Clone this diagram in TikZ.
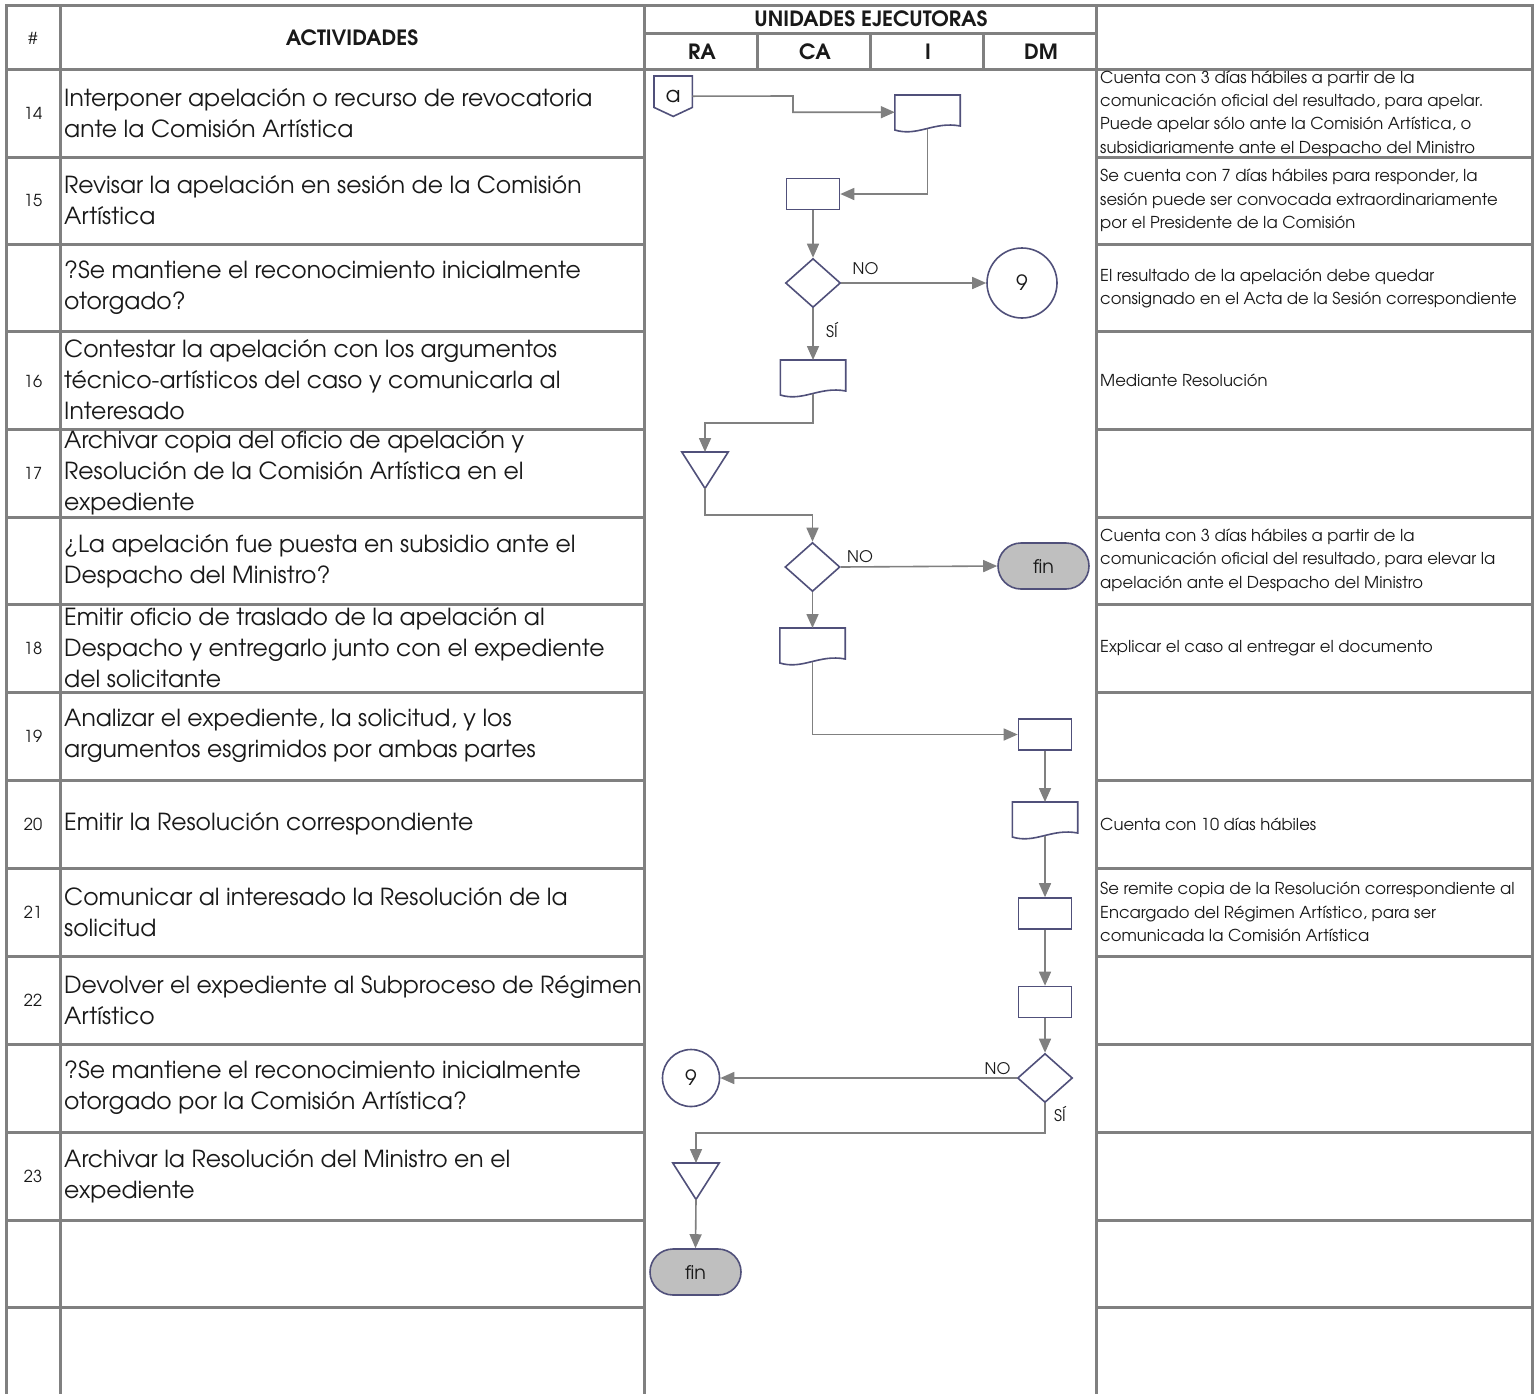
\documentclass[tikz,border=0pt]{standalone}
\usepackage{fontspec}
\setmainfont{TeX Gyre Adventor}
\usetikzlibrary{shapes.geometric,shapes.misc,arrows.meta,calc}
\definecolor{gridc}{RGB}{128,128,128}
\definecolor{shpc}{RGB}{80,80,122}
\definecolor{connc}{RGB}{128,128,128}
\definecolor{txtc}{RGB}{25,25,25}
\definecolor{termc}{RGB}{191,191,191}
\newcommand\docout[1]{\draw[outl] (#1.north west) -- (#1.north east) -- ($(#1.north east)+(0,31)$) .. controls ($(#1.north west)!0.6!(#1.north east)+(0,26)$) and ($(#1.north west)!0.35!(#1.north east)+(0,42)$) .. ($(#1.north west)+(0,35)$) -- cycle;}
\newcommand\triout[1]{\draw[outl] (#1.north west) -- (#1.north east) -- (#1.south) -- cycle;}
\newcommand\offout[1]{\draw[outl] (#1.north west) -- (#1.north east) -- ($(#1.south east)+(0,-9)$) -- (#1.south) -- ($(#1.south west)+(0,-9)$) -- cycle;}
\begin{document}
\begin{tikzpicture}[x=1pt,y=-1pt,
  gridline/.style={draw=gridc,line width=3pt,line cap=rect},
  outl/.style={draw=shpc,line width=1.6pt},
  fshape/.style={draw=shpc,line width=1.6pt,fill=white,inner sep=0pt,text=txtc},
  proc/.style={fshape,rectangle,minimum width=53pt,minimum height=31pt},
  dec/.style={fshape,diamond,minimum width=55pt,minimum height=49pt},
  docn/.style={rectangle,draw=none,minimum width=65pt,minimum height=34pt,inner sep=0pt},
  trin/.style={rectangle,draw=none,minimum width=46pt,minimum height=36pt,inner sep=0pt},
  offn/.style={rectangle,draw=none,minimum width=38pt,minimum height=40pt,inner sep=0pt,font=\fontsize{22}{24}\selectfont,text=txtc},
  conr/.style={fshape,circle,font=\fontsize{21}{23}\selectfont},
  term/.style={fshape,rounded rectangle,fill=termc,minimum width=91pt,minimum height=46pt,font=\fontsize{19}{21}\selectfont},
  conn/.style={draw=connc,line width=1.6pt,-{Triangle[length=14pt,width=12pt]}},
  lbl/.style={inner sep=0pt,font=\fontsize{16}{18}\selectfont,text=txtc},
  act/.style={anchor=west,align=left,inner sep=0pt,font=\fontsize{23.5}{31}\selectfont,text=txtc},
  obs/.style={anchor=west,align=left,inner sep=0pt,font=\fontsize{16.4}{23.3}\selectfont,text=txtc},
  num/.style={inner sep=0pt,font=\fontsize{16.5}{18}\selectfont,text=txtc},
  hdrb/.style={inner sep=0pt,font=\fontsize{21}{22}\bfseries,text=txtc}
]
\useasboundingbox (0,0) rectangle (1536,1393);
\fill[white] (0,0) rectangle (1536,1393);

% ---------- table grid ----------
\draw[gridline] (6,5) -- (1532,5);
\foreach \x in {6,60,644,1096,1532} \draw[gridline] (\x,5) -- (\x,1395);
\draw[gridline] (644,33) -- (1096,33);
\foreach \x in {757,870,983} \draw[gridline] (\x,33) -- (\x,69.5);
\draw[gridline] (6,69.5) -- (1532,69.5);
\foreach \y in {157,244,331,429,517,604,692,780,868,956,1044,1132,1220,1307}{
  \draw[gridline] (6,\y) -- (644,\y);
  \draw[gridline] (1096,\y) -- (1532,\y);
}

% ---------- header ----------
\node[num] (hnum) at (33,38) {\#};
\node[hdrb] (hact) at (352,38) {ACTIVIDADES};
\node[hdrb] (hue) at (871,19) {UNIDADES EJECUTORAS};
\node[hdrb] (hra) at (702,52) {RA};
\node[hdrb] (hca) at (815,52) {CA};
\node[hdrb] (hi) at (928,52) {I};
\node[hdrb] (hdm) at (1041,52) {DM};

% ---------- numbers ----------
\node[num] (n14) at (33,113.5) {14};
\node[num] (n15) at (33,200.5) {15};
\node[num] (n16) at (33,382) {16};
\node[num] (n17) at (33,473) {17};
\node[num] (n18) at (33,648) {18};
\node[num] (n19) at (33,736) {19};
\node[num] (n20) at (33,824) {20};
\node[num] (n21) at (33,912) {21};
\node[num] (n22) at (33,1000) {22};
\node[num] (n23) at (33,1176) {23};

% ---------- activities ----------
\node[act] (a14) at (64,113.5) {Interponer apelación o recurso de revocatoria\\ante la Comisión Artística};
\node[act] (a15) at (64,200.5) {Revisar la apelación en sesión de la Comisión\\Artística};
\node[act] (aq1) at (64,287.5) {?Se mantiene el reconocimiento inicialmente\\otorgado?};
\node[act] (a16) at (64,380) {Contestar la apelación con los argumentos\\técnico-artísticos del caso y comunicarla al\\Interesado};
\node[act] (a17) at (64,473) {Archivar copia del oficio de apelación y\\Resolución de la Comisión Artística en el\\expediente};
\node[act] (aq2) at (64,561) {¿La apelación fue puesta en subsidio ante el\\Despacho del Ministro?};
\node[act] (a18) at (64,648) {Emitir oficio de traslado de la apelación al\\Despacho y entregarlo junto con el expediente\\del solicitante};
\node[act] (a19) at (64,736) {Analizar el expediente, la solicitud, y los\\argumentos esgrimidos por ambas partes};
\node[act] (a20) at (64,824) {Emitir la Resolución correspondiente};
\node[act] (a21) at (64,912) {Comunicar al interesado la Resolución de la\\solicitud};
\node[act] (a22) at (64,1000) {Devolver el expediente al Subproceso de Régimen\\Artístico};
\node[act] (aq3) at (64,1088) {?Se mantiene el reconocimiento inicialmente\\otorgado por la Comisión Artística?};
\node[act] (a23) at (64,1176) {Archivar la Resolución del Ministro en el\\expediente};

% ---------- observations ----------
\node[obs] (o14) at (1100,113.5) {Cuenta con 3 días hábiles a partir de la\\comunicación oficial del resultado, para apelar.\\Puede apelar sólo ante la Comisión Artística, o\\subsidiariamente ante el Despacho del Ministro};
\node[obs] (o15) at (1100,200.5) {Se cuenta con 7 días hábiles para responder, la\\sesión puede ser convocada extraordinariamente\\por el Presidente de la Comisión};
\node[obs] (oq1) at (1100,288.5) {El resultado de la apelación debe quedar\\consignado en el Acta de la Sesión correspondiente};
\node[obs] (o16) at (1100,380) {Mediante Resolución};
\node[obs] (oq2) at (1100,560) {Cuenta con 3 días hábiles a partir de la\\comunicación oficial del resultado, para elevar la\\apelación ante el Despacho del Ministro};
\node[obs] (o18) at (1100,648) {Explicar el caso al entregar el documento};
\node[obs] (o20) at (1100,824.5) {Cuenta con 10 días hábiles};
\node[obs] (o21) at (1100,912) {Se remite copia de la Resolución correspondiente al\\Encargado del Régimen Artístico, para ser\\comunicada la Comisión Artística};

% ---------- flow shapes ----------
\node[offn,anchor=north west] (a) at (654,76) {a};
\offout{a}
\node[docn,anchor=north] (doc1) at (927.5,95) {};
\docout{doc1}
\node[proc] (p15) at (813,194) {};
\node[dec] (d1) at (813,283) {};
\node[conr,minimum size=70pt] (c9a) at (1022,283) {9};
\node[docn,anchor=north] (doc16) at (813,360) {};
\docout{doc16}
\node[trin,anchor=north] (t17) at (705,452) {};
\triout{t17}
\node[dec] (d2) at (812.5,567) {};
\node[term] (fin1) at (1043.5,566) {fin};
\node[docn,anchor=north] (doc18) at (812.5,628) {};
\docout{doc18}
\node[proc] (p19) at (1045,734.5) {};
\node[docn,anchor=north] (doc20) at (1045,802) {};
\docout{doc20}
\node[proc] (p21) at (1045,913.5) {};
\node[proc] (p22) at (1045,1002) {};
\node[dec] (d3) at (1045,1078) {};
\node[conr,minimum size=57pt] (c9b) at (691,1078) {9};
\node[trin,anchor=north] (t23) at (696,1163) {};
\triout{t23}
\node[term] (fin2) at (695.5,1272) {fin};

% ---------- bend points ----------
\coordinate (b1) at (793,96);
\coordinate (b2) at (705,423);
\coordinate (b3) at (812.5,515);
\coordinate (b4) at (696,1133);

% ---------- connectors ----------
\draw[conn] (a.east) -- (b1) |- (doc1.west);
\draw[conn] (doc1.south) |- (p15.east);
\draw[conn] (p15.south) -- (d1.north);
\draw[conn] (d1.east) -- (c9a.west);
\draw[conn] (d1.south) -- (doc16.north);
\draw[conn] (doc16.south) |- (b2) -- (t17.north);
\draw[conn] (t17.south) |- (b3) -- (d2.north);
\draw[conn] (d2.east) -- (fin1.west);
\draw[conn] (d2.south) -- (doc18.north);
\draw[conn] (doc18.south) |- (p19.west);
\draw[conn] (p19.south) -- (doc20.north);
\draw[conn] (doc20.south) -- (p21.north);
\draw[conn] (p21.south) -- (p22.north);
\draw[conn] (p22.south) -- (d3.north);
\draw[conn] (d3.west) -- (c9b.east);
\draw[conn] (d3.south) |- (b4) -- (t23.north);
\draw[conn] (t23.south) -- (fin2.north);

% ---------- labels ----------
\node[lbl,anchor=south west] (no1) at ($(d1.east)+(11,-8)$) {NO};
\node[lbl,anchor=west] (si1) at ($(d1.south)+(13,22)$) {SÍ};
\node[lbl,anchor=south west] (no2) at ($(d2.east)+(6,-4)$) {NO};
\node[lbl,anchor=south east] (no3) at ($(d3.west)+(-6,-3)$) {NO};
\node[lbl,anchor=south west] (si3) at ($(d3.south)+(9,19)$) {SÍ};
\end{tikzpicture}
\end{document}
